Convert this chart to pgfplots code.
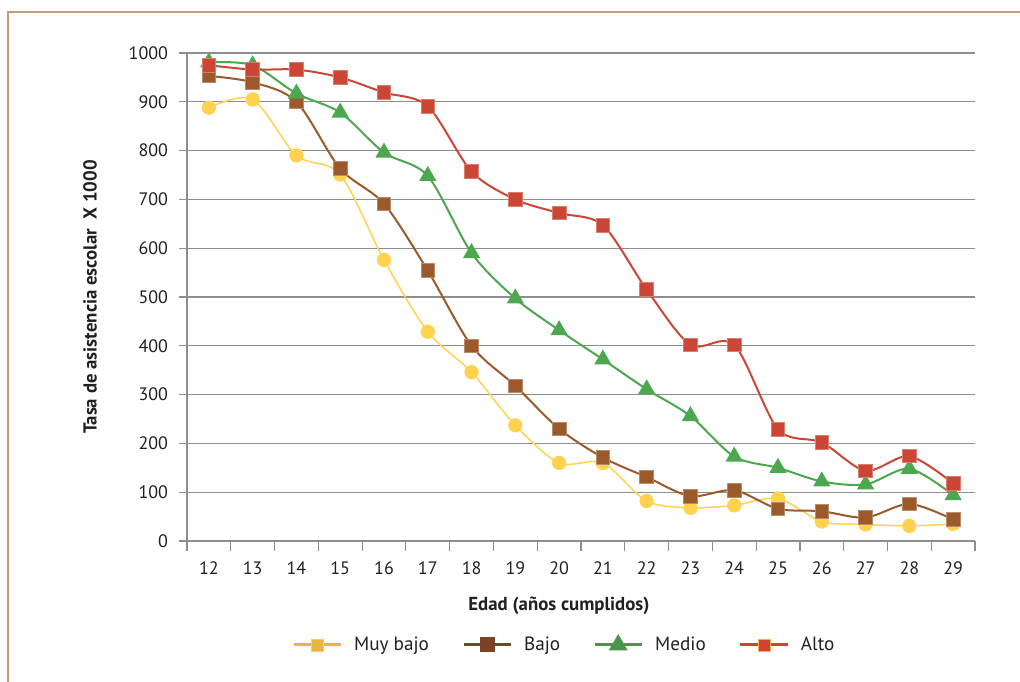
\documentclass[border=0pt]{standalone}
\usepackage{fontspec}
\setmainfont{PT Sans}
\usepackage{pgfplots}
\pgfplotsset{compat=1.18}

\definecolor{txt}{HTML}{231F20}
\definecolor{gridc}{HTML}{8E8E8E}
\definecolor{framec}{HTML}{C99A7E}
\definecolor{yelP}{HTML}{FFD24F}
\definecolor{broP}{HTML}{9C5A2C}
\definecolor{greP}{HTML}{4CA84F}
\definecolor{redP}{HTML}{CC4636}
\definecolor{yelL}{HTML}{E9B73B}
\definecolor{broL}{HTML}{7A4325}
\definecolor{greL}{HTML}{4A944C}
\definecolor{redL}{HTML}{CC4636}
\definecolor{redB}{HTML}{F2B04A}

\begin{document}
\begin{tikzpicture}
\useasboundingbox (0,0) rectangle (510pt,340.5pt);
\draw[framec, line width=0.8pt] (4pt,-3pt) -- (4pt,334.5pt) -- (515pt,334.5pt);
\begin{axis}[
  at={(93.5pt,70pt)}, anchor=south west,
  scale only axis, width=394pt, height=244pt,
  xmin=11.5, xmax=29.5, ymin=0, ymax=1000,
  axis x line*=bottom, axis y line*=left,
  axis line style={gridc, line width=0.6pt, -},
  xtick={12,...,29},
  minor xtick={11.5,12.5,...,29.5},
  ytick={0,100,...,1000},
  major tick length=4pt, minor tick length=5pt,
  tick align=outside,
  tick style={gridc, line width=0.6pt},
  x tick style={draw=none},
  minor x tick style={draw=gridc, line width=0.6pt},
  ymajorgrids, grid style={gridc, line width=0.6pt},
  ticklabel style={font=\fontsize{9}{10}\selectfont, text=txt},
  /pgf/number format/assume math mode=true,
  /pgf/number format/1000 sep={},
  xticklabel style={yshift=-3pt},
  yticklabel style={xshift=-2pt},
  xlabel={\textbf{Edad (años cumplidos)}},
  ylabel={\textbf{Tasa de asistencia escolar\ \ X 1000}},
  label style={font=\fontsize{9.4}{10}\selectfont, text=txt},
  x label style={at={(axis description cs:0.472,-0.133)}, anchor=center},
  y label style={at={(axis description cs:-0.123,0.5)}, anchor=center, rotate=0},
  legend image code/.code={\draw[mark repeat=2,mark phase=2,#1] plot coordinates {(0pt,0pt) (11.75pt,0pt) (23.5pt,0pt)};},
  legend style={at={(0.48,-0.213)}, anchor=center, draw=none, fill=none,
    legend columns=4, font=\fontsize{9.6}{10}\selectfont, text=txt,
    /tikz/every odd column/.append style={column sep=4pt},
    /tikz/every even column/.append style={column sep=14.5pt}},
  smooth, tension=0.5,
]
% Muy bajo
\addplot[yelP, line width=0.75pt, mark=*, mark size=3.2pt,
  mark options={fill=yelP, draw=yelP}, forget plot] coordinates {
 (12,888) (13,905) (14,790) (15,751) (16,576) (17,429) (18,346) (19,237)
 (20,160) (21,160) (22,82) (23,68) (24,73) (25,87) (26,40) (27,34) (28,31) (29,35)};
% Bajo
\addplot[broP, line width=1pt, mark=square*, mark size=3.4pt,
  mark options={fill=broP, draw=broP!70!white, line width=0.4pt}, forget plot] coordinates {
 (12,953) (13,940) (14,900) (15,763) (16,691) (17,554) (18,400) (19,318)
 (20,230) (21,171) (22,131) (23,92) (24,104) (25,66) (26,61) (27,48) (28,76) (29,44)};
% Medio
\addplot[greP, line width=1pt, mark=triangle*, mark size=4pt,
  mark options={fill=greP, draw=greP}, forget plot] coordinates {
 (12,981) (13,975) (14,917) (15,878) (16,796) (17,748) (18,590) (19,497)
 (20,432) (21,372) (22,311) (23,256) (24,173) (25,150) (26,122) (27,116) (28,148) (29,94)};
% Alto
\addplot[redP, line width=1pt, mark=square*, mark size=3.4pt,
  mark options={fill=redP, draw=redP!70!white, line width=0.4pt}, forget plot] coordinates {
 (12,975) (13,966) (14,966) (15,950) (16,919) (17,891) (18,757) (19,700)
 (20,672) (21,647) (22,515) (23,402) (24,402) (25,229) (26,202) (27,144) (28,174) (29,118)};

\addlegendimage{yelL, line width=1.5pt, mark=square*, mark size=3pt, mark options={fill=yelL, draw=yelL!70!white, line width=0.4pt}}
\addlegendentry{Muy bajo}
\addlegendimage{broL, line width=1.5pt, mark=square*, mark size=3pt, mark options={fill=broL, draw=broL}}
\addlegendentry{Bajo}
\addlegendimage{greL, line width=1.5pt, mark=triangle*, mark size=4pt, mark options={fill=greL, draw=greL}}
\addlegendentry{Medio}
\addlegendimage{redL, line width=1.5pt, mark=square*, mark size=3pt, mark options={fill=redL, draw=redB, line width=0.4pt}}
\addlegendentry{Alto}
\end{axis}
\end{tikzpicture}
\end{document}
